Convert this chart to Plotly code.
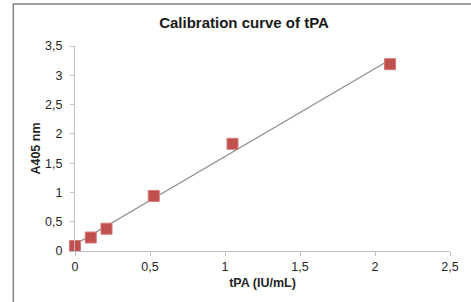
import numpy as np
import plotly.graph_objects as go

# Data
tpa = [0, 0.105, 0.21, 0.525, 1.05, 2.1]          # tPA (IU/mL)
a405 = [0.085, 0.23, 0.38, 0.94, 1.83, 3.19]      # A405 nm

x_ticks = [0, 0.5, 1, 1.5, 2, 2.5]
y_ticks = [0, 0.5, 1, 1.5, 2, 2.5, 3, 3.5]

# Linear trendline (least squares)
slope, intercept = np.polyfit(tpa, a405, 1)
fit_x = [min(tpa), max(tpa)]
fit_y = [slope * v + intercept for v in fit_x]

fig = go.Figure()
fig.add_trace(go.Scatter(
    x=fit_x, y=fit_y, mode="lines",
    line=dict(color="#8c8c8c", width=1.2),
    showlegend=False, hoverinfo="skip"))
fig.add_trace(go.Scatter(
    x=tpa, y=a405, mode="markers", cliponaxis=False,
    marker=dict(symbol="square", size=11, color="#C0504D",
                line=dict(color="#D47A78", width=1)),
    showlegend=False))

fig.update_layout(
    width=471, height=302,
    margin=dict(l=75, r=19, t=46, b=51),
    paper_bgcolor="white", plot_bgcolor="white",
    separators=", ",
    font=dict(family="Liberation Sans, Arial, sans-serif", color="#262626", size=12.5),
    title=dict(text="<b>Calibration curve of tPA</b>", font=dict(size=15, color="#1a1a1a"),
               x=244/471, xanchor="center", xref="container",
               y=1 - 23/302, yanchor="middle", yref="container"),
    xaxis=dict(range=[0, 2.5], tickvals=x_ticks, showgrid=False, zeroline=False,
               showline=True, linecolor="#c0c0c0", linewidth=1,
               ticks="outside", ticklen=4, tickcolor="#c0c0c0",
               title=dict(text="<b>tPA (IU/mL)</b>", font=dict(size=12.5), standoff=5)),
    yaxis=dict(range=[0, 3.5], tickvals=y_ticks, showgrid=False, zeroline=False,
               showline=True, linecolor="#c0c0c0", linewidth=1,
               ticks="outside", ticklen=4, tickcolor="#c0c0c0", ticklabelstandoff=5,
               title=dict(text="<b>A405 nm</b>", font=dict(size=12.5), standoff=1)),
    shapes=[dict(type="rect", xref="paper", yref="paper",
                 x0=(13 - 75) / 377, x1=1.2, y0=-0.4, y1=(251 - 4) / 205,
                 line=dict(color="#808080", width=1.5), fillcolor="rgba(0,0,0,0)",
                 layer="below")],
)

fig.write_html("out.html", config={"displayModeBar": False},
               post_script="document.body.style.margin='0';document.body.style.overflow='hidden';")
